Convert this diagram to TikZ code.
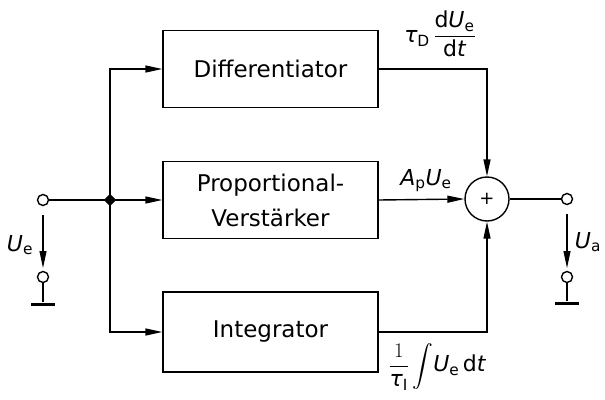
\documentclass[tikz,border=0pt]{standalone}
\usepackage{amsmath}
\usepackage{fontspec}
\setmainfont{DejaVu Sans}
\usetikzlibrary{arrows.meta,shapes.geometric}
\begin{document}
\begin{tikzpicture}[x=1pt,y=-1pt,
  line width=1.4pt,
  blk/.style={draw,rectangle,minimum width=215pt,minimum height=77pt,inner sep=0pt,align=center,
    font=\fontsize{23}{35}\selectfont},
  arr/.style={-{Triangle[length=17pt,width=7pt]}},
  term/.style={draw,circle,minimum size=11pt,inner sep=0pt,fill=white},
  gbar/.style={fill,rectangle,minimum width=24pt,minimum height=3pt,inner sep=0pt},
  lbl/.style={inner sep=0pt,font=\fontsize{22}{26}\selectfont}]
\useasboundingbox (0,0) rectangle (605,399);
% blocks
\node[blk] (D) at (270.5,69) {Differentiator};
\node[blk] (P) at (270.5,200) {Proportional-\\Verstärker};
\node[blk,minimum height=80pt] (I) at (270.5,332) {Integrator};
% summing point
\node[draw,circle,minimum size=44pt,inner sep=0pt,font=\fontsize{18}{18}\selectfont] (S) at (487,199) {+};
% input
\node[term] (in) at (43,200) {};
\coordinate (J) at (110,200);
\node[diamond,fill,minimum size=13pt,inner sep=0pt] (Jd) at (J) {};
\draw (in) -- (J);
\draw[arr] (J) -- (P.west);
\draw[arr] (J) |- (D.west);
\draw[arr] (J) |- (I.west);
% to summing point
\draw[arr] (D.east) -| (S.north);
\draw[arr] (P.east) -- (S.west);
\draw[arr] (I.east) -| (S.south);
% output
\node[term] (out) at (567,199) {};
\draw (S.east) -- (out);
% ground terminals
\node[term] (gin) at (43,277) {};
\node[gbar] (gbi) at (43,304) {};
\draw (gin) -- (gbi);
\node[term] (gout) at (567,277) {};
\node[gbar] (gbo) at (567,303) {};
\draw (gout) -- (gbo);
% voltage arrows
\coordinate (ue1) at (43,215);
\coordinate (ue2) at (43,268);
\draw[arr,line width=1.1pt] (ue1) -- (ue2);
\coordinate (ua1) at (567,214);
\coordinate (ua2) at (567,268);
\draw[arr,line width=1.1pt] (ua1) -- (ua2);
\node[lbl] (lue) at (20,245) {$\textit{U}_{\text{e}}$};
\node[lbl] (lua) at (588,242) {$\textit{U}_{\text{a}}$};
% signal labels
\node[lbl] (lD) at (440,34) {$\textit{τ}_{\text{D}}\,\dfrac{\text{d}\textit{U}_{\text{e}}}{\text{d}\textit{t}}$};
\node[lbl] (lP) at (426,181) {$\textit{A}_{\text{p}}\textit{U}_{\text{e}}$};
\node[lbl] (lI) at (437,367) {$\dfrac{1}{\textit{τ}_{\text{I}}}\displaystyle\int\!\textit{U}_{\text{e}}\,\text{d}\textit{t}$};
\end{tikzpicture}
\end{document}
